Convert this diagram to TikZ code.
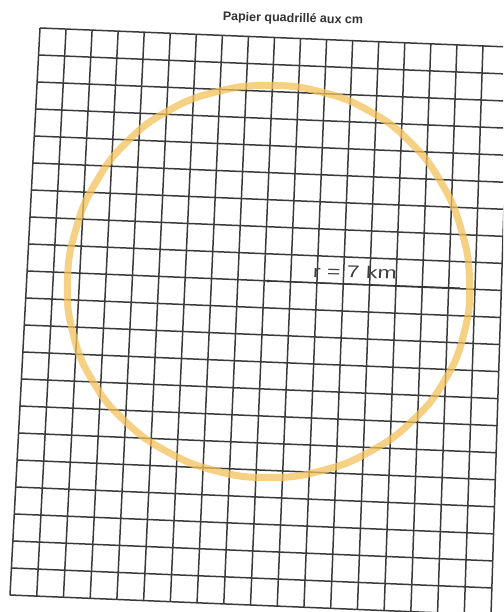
\documentclass[tikz,border=0pt]{standalone}
\usepackage{fontspec}
\setmainfont{Liberation Sans}
\usetikzlibrary{calc}
\definecolor{gridc}{HTML}{3A3A3A}
\definecolor{hilite}{HTML}{F3C25A}
\tikzset{
  gridline/.style={draw=gridc, line width=1.5pt},
  ring/.style={draw=hilite, line width=7pt, opacity=0.75, line join=round},
  radius/.style={draw=black!80, line width=1.1pt},
  hand/.style={text=black!75, font=\fontsize{17}{17}\selectfont, inner sep=0pt},
  titletext/.style={font=\bfseries\fontsize{12.5}{13}\selectfont, text=black!80, inner sep=0pt}
}
\begin{document}
\begin{tikzpicture}[x=1pt,y=-1pt]
\useasboundingbox (0,0) rectangle (503,612);
\fill[white] (0,0) rectangle (503,612);
\begin{scope}
\clip (0,0) rectangle (503,612);
\coordinate (TL) at (40,28);
\coordinate (TR) at (509,47);
\coordinate (BL) at (10,595);
\coordinate (BR) at (491,615);
\foreach \i in {0,...,18}{
  \draw[gridline] ($(TL)!\i/18!(TR)$) -- ($(BL)!\i/18!(BR)$);
}
\foreach \j in {0,...,21}{
  \draw[gridline] ($(TL)!\j/21!(BL)$) -- ($(TR)!\j/21!(BR)$);
}
\coordinate (M) at (268.5,281.5);
\draw[ring] plot[smooth cycle, tension=0.8, domain=0:345, samples=24, variable=\t]
  ({268.5+(201+2*sin(3*\t))*cos(\t)}, {281.5+(198+2*cos(2*\t))*sin(\t)});
\coordinate (C) at (268,281);
\coordinate (E) at (460,288);
\fill[black!80] (C) circle (1.6);
\draw[radius] (C) -- (E);
\node[hand, xscale=1.35, rotate=-2] (lab) at (355,272) {r = 7 km};
\end{scope}
\node[titletext, rotate=-1.5] (title) at (293,19) {Papier quadrillé aux cm};
\end{tikzpicture}
\end{document}
